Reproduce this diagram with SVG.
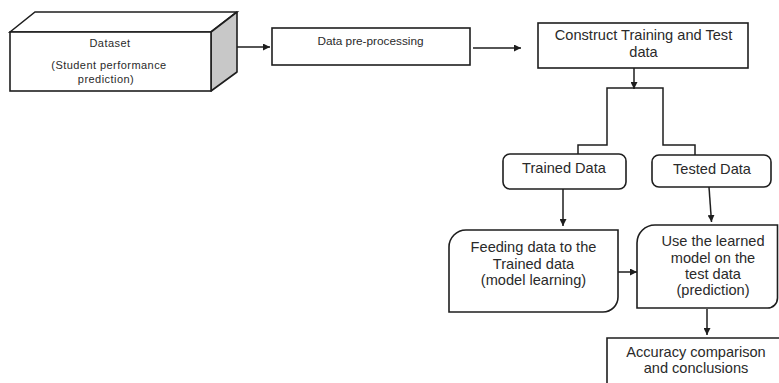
<svg xmlns="http://www.w3.org/2000/svg" width="779" height="383" viewBox="0 0 779 383">
  <style>
    .box { fill: #ffffff; stroke: #1e1e1e; stroke-width: 1.6; }
    .side { fill: #c8c8c8; stroke: #1e1e1e; stroke-width: 1.6; stroke-linejoin: round; }
    .link { fill: none; stroke: #1e1e1e; stroke-width: 1.5; }
    .t { font-family: "Liberation Sans", Arial, sans-serif; fill: #2a2a2a; text-anchor: middle; }
    .small { font-size: 11px; letter-spacing: 0.45px; }
    .mid { font-size: 11.8px; }
    .big { font-size: 14.6px; }
  </style>
  <defs>
    <marker id="arrow" viewBox="0 0 10 10" refX="10" refY="5" markerWidth="7" markerHeight="7" markerUnits="userSpaceOnUse" orient="auto">
      <path d="M0,0 L10,5 L0,10 Z" fill="#1e1e1e"/>
    </marker>
  </defs>

  <rect width="779" height="383" fill="#ffffff"/>

  <!-- connectors -->
  <g id="connectors">
    <line class="link" x1="237" y1="47" x2="270" y2="47" marker-end="url(#arrow)"/>
    <line class="link" x1="473" y1="48" x2="521" y2="48" marker-end="url(#arrow)"/>
    <line class="link" x1="634" y1="68" x2="634" y2="89" marker-end="url(#arrow)"/>
    <path class="link" d="M578 155 V145 H607 V88 H663 V145 H695 V155"/>
    <line class="link" x1="563" y1="189" x2="563" y2="226" marker-end="url(#arrow)"/>
    <line class="link" x1="709" y1="187" x2="711.5" y2="222" marker-end="url(#arrow)"/>
    <line class="link" x1="618" y1="272" x2="637" y2="272" marker-end="url(#arrow)"/>
    <line class="link" x1="707" y1="309" x2="707" y2="335" marker-end="url(#arrow)"/>
  </g>

  <!-- dataset block drawn as a 3D box -->
  <g id="dataset">
    <polygon class="box" points="10,32 35,12 237,12 211,32"/>
    <polygon class="side" points="211,32 237,12 237,72 211,91"/>
    <rect class="box" x="10" y="32" width="201" height="59"/>
    <text class="t small" x="110" y="47">Dataset</text>
    <text class="t small" x="109" y="69">(Student performance</text>
    <text class="t small" x="106" y="83">prediction)</text>
  </g>

  <g id="preprocessing">
    <rect class="box" x="272" y="28" width="198" height="37"/>
    <text class="t mid" x="370.5" y="45">Data pre-processing</text>
  </g>

  <g id="construct">
    <rect class="box" x="538" y="23" width="210" height="45"/>
    <text class="t big" x="643.5" y="40">Construct Training and Test</text>
    <text class="t big" x="643.5" y="57">data</text>
  </g>

  <g id="trained">
    <rect class="box" x="503" y="154" width="123" height="35" rx="7"/>
    <text class="t big" x="564" y="173">Trained Data</text>
  </g>

  <g id="tested">
    <rect class="box" x="652" y="155" width="119" height="32" rx="7"/>
    <text class="t big" x="712" y="174">Tested Data</text>
  </g>

  <g id="feeding">
    <path class="box" d="M449 312 V247 A17 17 0 0 1 466 230 H618 V297 A15 15 0 0 1 603 312 Z"/>
    <text class="t big" x="533.5" y="252">Feeding data to the</text>
    <text class="t big" x="533.5" y="269">Trained data</text>
    <text class="t big" x="533.5" y="285">(model learning)</text>
  </g>

  <g id="prediction">
    <path class="box" d="M637 308 V243 A18 18 0 0 1 655 225 H777.5 V298 A10 10 0 0 1 767.5 308 Z"/>
    <text class="t big" x="713" y="246">Use the learned</text>
    <text class="t big" x="713" y="263">model on the</text>
    <text class="t big" x="713" y="279">test data</text>
    <text class="t big" x="713" y="295">(prediction)</text>
  </g>

  <g id="accuracy">
    <path class="box" d="M607 390 V338 H785 V390"/>
    <text class="t big" x="696" y="357">Accuracy comparison</text>
    <text class="t big" x="696" y="373">and conclusions</text>
  </g>
</svg>
